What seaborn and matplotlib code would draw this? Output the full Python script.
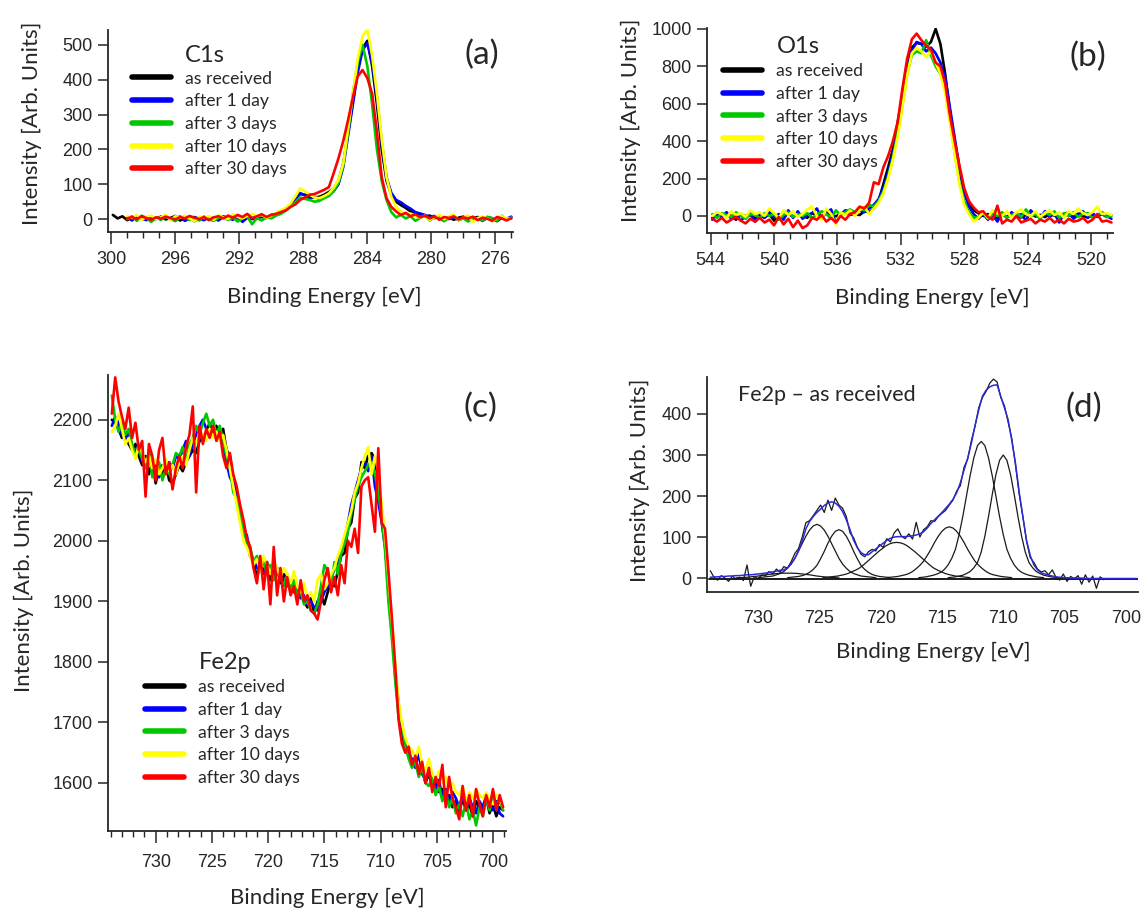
import numpy as np
import pandas as pd
import matplotlib
matplotlib.use("Agg")
import matplotlib.pyplot as plt
import seaborn as sns
from matplotlib.ticker import MultipleLocator

# sample names and Igor-like colours
samples = ["as received", "after 1 day", "after 3 days", "after 10 days", "after 30 days"]
colors = ["#000000", "#0000ff", "#00c800", "#ffff00", "#ff0000"]

nan = np.nan

# ---------------- (a) C1s : 0.3 eV steps, 299.9 -> 275.0 eV
c1s_range = (299.9, 275.0)
c1s_black = [12, 2, 8, -3, 5, 0, 6, -2, 4, 1,
             7, -1, 3, 9, -4, 2, 5, -6, 3, 0,
             6, -3, 4, 8, -2, 11, 3, -4, 6, 2,
             5, 9, 4, 12, 15, 22, 30, 42, 60, 72,
             70, 66, 62, 64, 70, 78, 88, 110, 160, 250,
             340, 430, 490, 512, 440, 330, 200, 110, 70, 50,
             40, 32, 22, 18, 14, 8, 10, 3, 6, 0,
             5, -2, 4, 7, -3, 2, 6, -4, 3, 1, -6, 4, 0, 2]
c1s_blue = [nan, nan, nan, 5, -4, 8, 2, -3, 6, 0,
            4, 10, -2, 3, 7, -5, 2, 6, 1, -3,
            5, 2, -4, 7, 3, -2, 9, -8, 4, 0,
            2, 6, 3, 8, 14, 20, 28, 38, 55, 75,
            68, 60, 64, 58, 62, 70, 80, 100, 150, 240,
            330, 420, 485, 505, 450, 350, 220, 120, 75, 55,
            48, 38, 30, 20, 16, 12, 6, 9, 2, 5,
            0, 6, -3, 4, 8, -2, 3, -5, 6, 2, -3, 5, 1, 7]
c1s_green = [nan, nan, nan, 0, 8, -5, 10, 3, -8, 4,
             -2, 6, 1, -6, 5, 8, -3, 2, -4, 7,
             0, -5, 3, 6, -2, 4, -7, 2, 8, -15,
             3, -4, 5, 2, 10, 15, 24, 35, 48, 62,
             58, 55, 50, 52, 60, 66, 80, 105, 155, 250,
             360, 450, 500, 440, 330, 200, 110, 55, 20, 5,
             12, 2, 8, -5, 3, 10, -4, 6, 2, -6,
             4, 8, -3, 2, -7, 5, 1, -4, 6, 3, -5, 10, -2, 4]
c1s_yellow = [nan, nan, nan, 8, 3, 12, -2, 6, 10, 0,
              5, 12, -3, 8, 4, 10, 2, -6, 7, 3,
              9, -2, 12, 5, 0, 14, 6, 2, 10, 15,
              8, 12, 4, 10, 18, 25, 32, 45, 65, 88,
              80, 70, 62, 60, 66, 74, 90, 112, 160, 260,
              360, 460, 525, 545, 470, 360, 230, 120, 64, 35,
              22, 12, 16, 8, 4, 10, -2, 6, 12, 0,
              8, 14, -3, 5, 10, -8, 3, 7, 2, -6, 5, 9, 1, 3]
c1s_red = [nan, nan, nan, 2, 6, 0, 8, 3, -2, 5,
           1, 7, 3, -1, 6, 2, 9, 4, 0, 6,
           -3, 5, 8, 2, 10, 4, 12, 6, 15, 3,
           8, 14, 6, 12, 15, 20, 25, 35, 42, 55,
           62, 70, 72, 78, 84, 92, 132, 175, 225, 285,
           350, 410, 428, 405, 360, 250, 120, 60, 35, 22,
           12, 18, 8, 14, 5, 10, 2, 8, -2, 6,
           3, 8, -1, 5, 2, 7, -3, 4, 1, -5, 6, 2, -4, 3]

# ---------------- (b) O1s : 0.3 eV steps, 543.9 -> 518.7 eV
o1s_range = (543.9, 518.7)
o1s_black = [-10, 10, -5, 15, 0, -20, 8, -3, 5, -12,
             4, -8, 10, -25, 2, -6, 12, -4, 6, 0,
             -10, 15, 3, -8, 20, 5, -2, 10, 18, 6,
             10, 5, 25, 20, 40, 80, 170, 260, 355, 500,
             640, 800, 900, 925, 920, 905, 930, 1000, 920, 760,
             560, 400, 250, 130, 60, 30, 15, 0, 10, -5,
             -10, 8, -5, 12, 0, -8, 5, 15, -3, 6,
             -6, 10, 2, -10, 8, 4, -4, 12, 0, -8,
             6, -2, 10, -5, 3]
o1s_blue = [-20, 10, -5, 20, -15, 5, -25, 0, 15, -30,
            5, -10, 20, -5, 10, -20, 30, -10, 25, -15,
            5, 15, 40, -10, 20, 35, -40, 10, 30, 25,
            10, 30, 20, 40, 60, 90, 150, 230, 330, 460,
            620, 780, 880, 930, 920, 880, 900, 870, 820, 740,
            580, 420, 260, 130, 50, 10, -15, 10, -20, 5,
            -30, 15, -10, 20, -5, 10, -25, 30, 5, -10,
            25, -5, 15, -35, 10, 20, -15, 5, 25, -10,
            15, -5, 20, 0, -15]
o1s_green = [10, -10, 15, 5, -5, 20, 0, -15, 10, 5,
             -10, 15, 0, 10, -20, 5, 20, -5, 10, 0,
             15, -10, 5, 25, 10, -15, 30, 5, 20, 35,
             20, 40, 30, 60, 50, 80, 130, 210, 310, 440,
             590, 760, 860, 880, 870, 940, 860, 800, 760, 680,
             520, 340, 180, 80, 20, -10, -5, 15, -15, 10,
             0, 20, -10, 5, 15, -5, 35, 0, 10, -15,
             20, 5, 25, -10, 15, 0, 20, -5, 10, 15,
             -10, 5, 20, -5, 0]
o1s_yellow = [0, 20, 10, -10, 25, 5, 15, -5, 30, 10,
              20, 0, 40, 15, -10, 30, 5, 25, -5, 10,
              35, 50, 0, -20, 40, 10, -45, 20, 5, 30,
              0, 30, 50, 10, 40, 70, 120, 200, 300, 420,
              580, 750, 870, 900, 880, 850, 880, 820, 760, 660,
              500, 330, 170, 60, 10, -30, -10, 20, -10, 30,
              15, 0, 25, -10, 20, 35, 10, 0, 25, -5,
              15, 30, 5, 20, -10, 25, 10, 40, 15, 5,
              20, 50, 10, 15, 5]
o1s_red = [-15, -30, -10, -35, -20, -5, -25, -40, -15, -30,
           -10, -35, -20, -50, -5, -45, -15, -60, -25, -65,
           -50, -10, -20, 5, -30, -10, -35, 0, -20, 10,
           20, 50, 40, 70, 180, 170, 260, 320, 400, 500,
           680, 840, 945, 975, 940, 910, 890, 820, 800, 710,
           540, 400, 270, 150, 80, 45, 20, 25, -5, -20,
           55, -40, -20, -30, 0, -35, -25, -15, -40, -20,
           -30, -10, -35, -20, -40, -15, -30, -25, -10, -35,
           -20, 10, -30, -25, -35]

# ---------------- (c) Fe2p : 0.3 eV steps, 733.9 -> 699.1 eV
fe2p_range = (733.9, 699.1)
fe2p_black = [2200, 2195, 2185, 2170, 2175, 2160, 2150, 2160, 2140, 2125,
              2140, 2110, 2130, 2095, 2120, 2110, 2125, 2100, 2095, 2110,
              2125, 2115, 2130, 2140, 2150, 2145, 2165, 2170, 2180, 2195,
              2180, 2190, 2170, 2185, 2150, 2140, 2100, 2085, 2050, 2030,
              2000, 1975, 1965, 1940, 1960, 1950, 1965, 1935, 1950, 1955,
              1930, 1945, 1935, 1920, 1930, 1905, 1920, 1900, 1890, 1905,
              1880, 1900, 1910, 1895, 1915, 1935, 1925, 1950, 1975, 1980,
              2020, 2030, 2070, 2080, 2130, 2120, 2140, 2145, 2135, 2100,
              2050, 1995, 1920, 1860, 1780, 1720, 1680, 1655, 1650, 1635,
              1640, 1620, 1625, 1600, 1615, 1595, 1600, 1585, 1590, 1575,
              1580, 1560, 1570, 1550, 1575, 1555, 1565, 1545, 1570, 1560,
              1555, 1575, 1550, 1565, 1545, 1560, 1555]
fe2p_blue = [2190, 2205, 2195, 2175, 2165, 2180, 2155, 2145, 2160, 2130,
             2125, 2145, 2115, 2130, 2105, 2125, 2115, 2130, 2120, 2140,
             2135, 2150, 2165, 2140, 2160, 2175, 2190, 2200, 2185, 2175,
             2190, 2175, 2180, 2160, 2130, 2105, 2095, 2070, 2045, 2010,
             2010, 1980, 1970, 1955, 1965, 1945, 1960, 1950, 1940, 1955,
             1945, 1935, 1925, 1935, 1915, 1920, 1905, 1910, 1895, 1900,
             1890, 1885, 1900, 1915, 1925, 1935, 1955, 1965, 1985, 2000,
             2030, 2060, 2080, 2100, 2120, 2130, 2115, 2140, 2090, 2065,
             2030, 1990, 1930, 1860, 1790, 1730, 1690, 1665, 1645, 1640,
             1625, 1650, 1615, 1605, 1620, 1600, 1590, 1605, 1575, 1590,
             1565, 1585, 1575, 1560, 1580, 1555, 1575, 1560, 1550, 1570,
             1560, 1580, 1565, 1555, 1570, 1550, 1545]
fe2p_green = [2240, 2200, 2180, 2195, 2175, 2185, 2160, 2140, 2150, 2135,
              2120, 2150, 2105, 2115, 2130, 2100, 2120, 2110, 2125, 2145,
              2140, 2155, 2130, 2160, 2170, 2190, 2175, 2195, 2210, 2190,
              2200, 2175, 2190, 2165, 2140, 2120, 2080, 2070, 2050, 2015,
              2000, 1990, 1965, 1975, 1955, 1965, 1945, 1960, 1935, 1950,
              1940, 1925, 1945, 1920, 1935, 1910, 1915, 1895, 1900, 1885,
              1880, 1895, 1925, 1960, 1950, 1925, 1965, 1945, 1980, 1995,
              2015, 2045, 2070, 2090, 2105, 2115, 2125, 2130, 2110, 2080,
              2040, 1985, 1900, 1840, 1770, 1710, 1700, 1660, 1640, 1625,
              1635, 1610, 1625, 1600, 1595, 1610, 1580, 1595, 1570, 1585,
              1560, 1575, 1550, 1565, 1545, 1570, 1540, 1555, 1530, 1560,
              1545, 1575, 1555, 1585, 1560, 1570, 1555]
fe2p_yellow = [2180, 2190, 2210, 2185, 2160, 2170, 2150, 2135, 2160, 2145,
               2130, 2140, 2120, 2135, 2110, 2120, 2135, 2115, 2125, 2110,
               2130, 2140, 2125, 2150, 2170, 2160, 2180, 2175, 2165, 2185,
               2170, 2180, 2165, 2175, 2150, 2120, 2090, 2060, 2030, 2000,
               1990, 1975, 1960, 1970, 1950, 1975, 1960, 1945, 1965, 1955,
               1940, 1955, 1945, 1930, 1950, 1925, 1915, 1930, 1905, 1915,
               1900, 1935, 1945, 1920, 1930, 1945, 1955, 1975, 1990, 2010,
               2030, 2050, 2080, 2095, 2120, 2140, 2155, 2110, 2140, 2115,
               2060, 2010, 1940, 1870, 1800, 1735, 1700, 1675, 1660, 1655,
               1640, 1660, 1630, 1620, 1640, 1615, 1605, 1620, 1600, 1610,
               1590, 1600, 1585, 1580, 1595, 1570, 1585, 1575, 1590, 1580,
               1575, 1585, 1570, 1565, 1580, 1575, 1560]
fe2p_red = [2210, 2270, 2230, 2205, 2185, 2220, 2170, 2195, 2150, 2165,
            2073, 2160, 2140, 2100, 2150, 2170, 2110, 2130, 2085, 2120,
            2140, 2120, 2155, 2175, 2222, 2080, 2190, 2160, 2185, 2170,
            2190, 2165, 2180, 2140, 2120, 2145, 2110, 2090, 2060, 2035,
            2005, 1990, 1955, 1930, 1975, 1920, 1965, 1895, 1990, 1910,
            1955, 1900, 1940, 1910, 1925, 1895, 1935, 1900, 1910, 1885,
            1880, 1870, 1900, 1935, 1955, 1915, 1940, 1910, 1960, 1930,
            2000, 1990, 2020, 1980, 2090, 2100, 2105, 2060, 2015, 2153,
            2030, 2020, 1950, 1875, 1795, 1705, 1665, 1650, 1660, 1630,
            1645, 1615, 1635, 1600, 1625, 1585, 1610, 1595, 1630, 1560,
            1610, 1575, 1560, 1540, 1595, 1555, 1580, 1545, 1590, 1565,
            1545, 1580, 1560, 1590, 1555, 1580, 1560]

# ---------------- (d) Fe2p as received, fitted
fit_data_range = (733.9, 701.8)
fit_data = [18, 2, -5, 6, 0, -8, 5, -3, 2, -6,
            32, -20, 4, -2, 8, 5, 16, 10, 22, 14,
            28, 24, 40, 60, 72, 100, 135, 140, 152, 165,
            178, 160, 190, 165, 195, 178, 170, 150, 110, 98,
            75, 58, 52, 64, 70, 66, 82, 75, 96, 88,
            110, 120, 102, 96, 108, 95, 136, 100, 118, 125,
            140, 138, 150, 158, 165, 178, 190, 212, 225, 270,
            290, 335, 370, 415, 440, 455, 475, 485, 478, 440,
            420, 380, 340, 275, 205, 150, 90, 50, 38, 22,
            15, 18, 8, 20, 2, -5, 10, -8, 4, -2,
            6, -15, 8, -10, 5, -25, 3, -4]
fit_env_range = (733.9, 699.1)
fit_envelope = [2, 3, 3, 4, 4, 5, 5, 6, 6, 7,
                8, 8, 9, 10, 11, 12, 14, 15, 17, 19,
                20, 25, 35, 48, 66, 90, 120, 138, 150, 160,
                168, 177, 183, 186, 183, 175, 162, 142, 118, 92,
                74, 62, 57, 57, 64, 71, 78, 85, 92, 97,
                100, 101, 101, 101, 102, 103, 105, 108, 113, 122,
                133, 142, 151, 160, 170, 180, 192, 208, 232, 263,
                292, 329, 372, 410, 443, 458, 466, 470, 471, 443,
                415, 386, 335, 280, 210, 150, 92, 55, 32, 20,
                13, 10, 7, 5, 3, 2, 1, 1, 0, 0,
                0, 0, -1, -1, -1, -1, -1, -1, -1, -1,
                -1, -1, -1, -1, -1, -1, -1]
baseline_energy = [734.0, 699.0]
baseline_level = [-2, -2]
comp_ranges = [(714.5, 705.5), (716.9, 706.7), (719.5, 709.3), (724.7, 712.7),
               (727.6, 719.2), (730.0, 720.4), (731.8, 723.4)]
comp_values = [
    [1, 2, 3, 5, 7, 11, 16, 25, 38, 63, 102, 150, 203, 252, 287, 300,
     287, 252, 203, 150, 102, 63, 38, 25, 16, 11, 7, 5, 3, 2, 1],
    [1, 2, 3, 5, 7, 10, 14, 21, 32, 48, 70, 106, 150, 200, 250, 293, 323, 333,
     323, 293, 250, 200, 150, 106, 70, 48, 32, 21, 14, 10, 7, 5, 3, 2, 1],
    [1, 2, 3, 4, 6, 8, 11, 16, 23, 31, 41, 55, 70, 87, 102, 114, 122, 125,
     122, 114, 102, 87, 70, 55, 41, 31, 23, 16, 11, 8, 6, 4, 3, 2, 1],
    [1, 2, 3, 4, 5, 7, 9, 12, 16, 20, 25, 32, 40, 48, 56, 64, 71, 78, 83, 86, 87,
     86, 83, 78, 71, 64, 56, 48, 40, 32, 25, 20, 16, 12, 9, 7, 5, 4, 3, 2, 1],
    [1, 2, 3, 4, 6, 9, 14, 21, 31, 47, 65, 85, 102, 114, 118,
     114, 102, 85, 65, 47, 31, 21, 14, 9, 6, 4, 3, 2, 1],
    [1, 2, 3, 4, 5, 8, 11, 16, 24, 34, 48, 66, 84, 102, 117, 127, 131,
     127, 117, 102, 84, 66, 48, 34, 24, 16, 11, 8, 5, 4, 3, 2, 1],
    [0.5, 1, 1.5, 2, 3, 4, 5, 6.5, 8, 9, 10, 11, 11.7, 12, 12,
     12, 11.7, 11, 10, 9, 8, 6.5, 5, 4, 3, 2, 1.5, 1, 0.5],
]

# ---------------- style
sns.set_style("ticks")
plt.rcParams["font.family"] = ["Liberation Sans", "DejaVu Sans"]
plt.rcParams["axes.linewidth"] = 1.3
LABEL_FONT = "Lato"


def energy_axis(erange, n):
    return np.linspace(erange[0], erange[1], n)


def spectra(ax, erange, series):
    energy = energy_axis(erange, len(series[0]))
    df = pd.concat([pd.DataFrame({"energy": energy, "intensity": vals, "sample": name})
                    for name, vals in zip(samples, series)], ignore_index=True)
    sns.lineplot(data=df, x="energy", y="intensity", hue="sample", hue_order=samples,
                 palette=colors, estimator=None, linewidth=1.9, legend=False, ax=ax)


def dress(ax, xlim, ylim, xmajor, xminor, yticks, xlab_xy, ylab_xy, xpad, letter_xy, letter,
          xtick_len=8.5):
    ax.set_xlim(*xlim)
    ax.set_ylim(*ylim)
    ax.xaxis.set_major_locator(MultipleLocator(xmajor))
    if xminor:
        ax.xaxis.set_minor_locator(MultipleLocator(xminor))
    ax.set_yticks(yticks)
    sns.despine(ax=ax)
    ax.tick_params(axis="x", which="major", length=xtick_len, width=1.1, pad=xpad, labelsize=13)
    ax.tick_params(axis="x", which="minor", length=4.5, width=1.0)
    ax.tick_params(axis="y", which="major", length=7, width=1.1, pad=4, labelsize=13)
    ax.set_xlabel("Binding Energy [eV]", fontfamily=LABEL_FONT, fontsize=16)
    ax.set_ylabel("Intensity [Arb. Units]", fontfamily=LABEL_FONT, fontsize=16)
    ax.xaxis.label.set_verticalalignment("center")
    ax.yaxis.label.set_verticalalignment("center")
    ax.xaxis.set_label_coords(*xlab_xy)
    ax.yaxis.set_label_coords(*ylab_xy)
    ax.text(letter_xy[0], letter_xy[1], letter, transform=ax.transAxes, ha="center",
            va="center", fontfamily=LABEL_FONT, fontsize=24)


def series_legend(ax, title, title_xy, anchor):
    handles = ax.get_lines()[:5]
    leg = ax.legend(handles, samples, loc="upper left", bbox_to_anchor=anchor, frameon=False,
                    borderpad=0, borderaxespad=0, handlelength=2.2, handletextpad=0.8,
                    labelspacing=0.38, prop={"family": LABEL_FONT, "size": 12.7})
    for line in leg.get_lines():
        line.set_linewidth(4.0)
    ax.text(title_xy[0], title_xy[1], title, transform=ax.transAxes, ha="left", va="center",
            fontfamily=LABEL_FONT, fontsize=17)


fig = plt.figure(figsize=(11.43, 9.09), dpi=100)

# (a) C1s
ax_a = fig.add_axes([0.0945, 0.7448, 0.3543, 0.2222])
spectra(ax_a, c1s_range, [c1s_black, c1s_blue, c1s_green, c1s_yellow, c1s_red])
dress(ax_a, (300.2, 274.9), (-37, 543), 4, 1, [0, 100, 200, 300, 400, 500],
      (0.533, -0.322), (-0.188, 0.54), 5, (0.923, 0.876), "(a)")
series_legend(ax_a, "C1s", (0.190, 0.876), (0.0585, 0.799))

# (b) O1s
ax_b = fig.add_axes([0.6186, 0.7437, 0.3552, 0.2255])
spectra(ax_b, o1s_range, [o1s_black, o1s_blue, o1s_green, o1s_yellow, o1s_red])
dress(ax_b, (544.23, 518.6), (-91, 1005), 4, 1, [0, 200, 400, 600, 800, 1000],
      (0.554, -0.317), (-0.187, 0.551), 5, (0.938, 0.859), "(b)")
series_legend(ax_b, "O1s", (0.172, 0.909), (0.040, 0.828))

# (c) Fe2p
ax_c = fig.add_axes([0.0945, 0.0858, 0.3482, 0.5017])
spectra(ax_c, fe2p_range, [fe2p_black, fe2p_blue, fe2p_green, fe2p_yellow, fe2p_red])
dress(ax_c, (734.24, 698.84), (1520.7, 2274), 5, 1, [1600, 1700, 1800, 1900, 2000, 2100, 2200],
      (0.551, -0.147), (-0.211, 0.528), 8, (0.935, 0.928), "(c)")
series_legend(ax_c, "Fe2p", (0.229, 0.369), (0.093, 0.333))

# (d) Fe2p as received with fit components
ax_d = fig.add_axes([0.6186, 0.3487, 0.3771, 0.2365])
for rng, vals in zip(comp_ranges, comp_values):
    sns.lineplot(x=energy_axis(rng, len(vals)), y=vals, color="#1a1a1a", linewidth=0.9,
                 estimator=None, ax=ax_d)
sns.lineplot(x=baseline_energy, y=baseline_level, color="#1a1a1a", linewidth=1.4,
             estimator=None, ax=ax_d)
sns.lineplot(x=energy_axis(fit_data_range, len(fit_data)), y=fit_data, color="#1a1a1a",
             linewidth=0.9, estimator=None, ax=ax_d)
sns.lineplot(x=energy_axis(fit_env_range, len(fit_envelope)), y=fit_envelope, color="#2a2ad8",
             linewidth=1.1, estimator=None, ax=ax_d)
dress(ax_d, (734.16, 699.0), (-34, 490), 5, None, [0, 100, 200, 300, 400],
      (0.524, -0.278), (-0.155, 0.52), 13, (0.875, 0.858), "(d)", xtick_len=0)
ax_d.text(0.072, 0.916, "Fe2p \u2013 as received", transform=ax_d.transAxes, ha="left",
          va="center", fontfamily=LABEL_FONT, fontsize=15.5)

fig.savefig("out.png", dpi=100, facecolor="white")
